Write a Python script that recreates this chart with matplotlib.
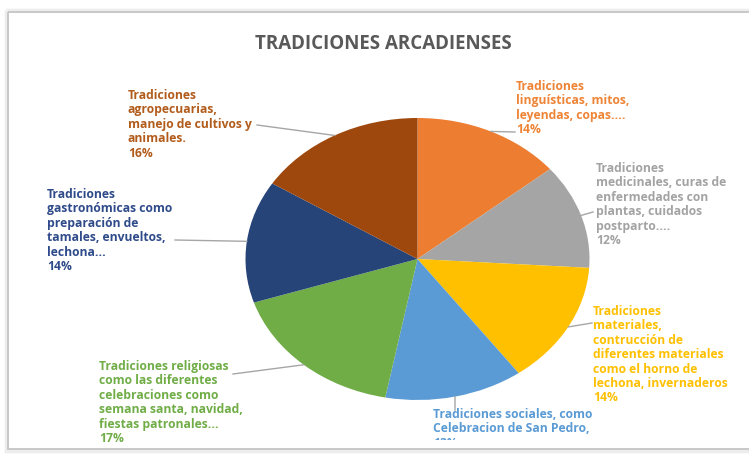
import matplotlib
matplotlib.use("Agg")
import matplotlib.pyplot as plt
from matplotlib.patches import Rectangle
from matplotlib.transforms import Bbox, TransformedBbox
import numpy as np

# data
labels = [
    "Tradiciones\nlinguísticas, mitos,\nleyendas, copas....\n14%",
    "Tradiciones\nmedicinales, curas de\nenfermedades con\nplantas, cuidados\npostparto....\n12%",
    "Tradiciones\nmateriales,\ncontrucción de\ndiferentes materiales\ncomo el horno de\nlechona, invernaderos\n14%",
    "Tradiciones sociales, como\nCelebracion de San Pedro,\n13%",
    "Tradiciones religiosas\ncomo las diferentes\ncelebraciones como\nsemana santa, navidad,\nfiestas patronales...\n17%",
    "Tradiciones\ngastronómicas como\npreparación de\ntamales, envueltos,\nlechona...\n14%",
    "Tradiciones\nagropecuarias,\nmanejo de cultivos y\nanimales.\n16%",
]
values = [14, 12, 14, 13, 17, 14, 16]
colors = ["#ED7D31", "#A5A5A5", "#FFC000", "#5B9BD5", "#70AD47", "#264478", "#9E480E"]
text_colors = ["#EE8435", "#A3A3A3", "#FFC000", "#5B9BD5", "#70AD47", "#2F4B8A", "#B25C1C"]

# label layout in pixels (x left, y of first line centre; end of leader line)
label_pos = [(516, 85), (596, 167), (593, 310), (433, 413), (99, 365), (47, 193), (128, 94)]
leader_end = [(515, 132), (593, 212), (592, 323), (455, 410), (233, 374), (175, 240), (257, 125)]
line_gap = 14.4

W, H = 749, 455
fig = plt.figure(figsize=(W / 100, H / 100), dpi=100)
fig.patch.set_facecolor("white")

# pie axes (the screenshot is stretched, so the pie is an ellipse)
cx, cy, rx, ry = 417.5, 259, 172, 141
pax = fig.add_axes([(cx - rx) / W, (H - cy - ry) / H, 2 * rx / W, 2 * ry / H])
wedges, _ = pax.pie(values, colors=colors, startangle=90, counterclock=False,
                    wedgeprops=dict(linewidth=0))
pax.set_aspect("auto")
pax.set_xlim(-1, 1)
pax.set_ylim(-1, 1)
pax.axis("off")

# overlay in pixel coordinates
ax = fig.add_axes([0, 0, 1, 1])
ax.set_xlim(0, W)
ax.set_ylim(H, 0)
ax.axis("off")
ax.patch.set_alpha(0)

shadow = Rectangle((6, 10), W, 441, fill=False, edgecolor="#EDEDED", lw=2.5)
ax.add_patch(shadow)
frame = Rectangle((8, 12), W, 437, fill=False, edgecolor="#C8C8C8", lw=1.4)
ax.add_patch(frame)

ax.text(383, 44, "TRADICIONES ARCADIENSES", ha="center", va="center",
        fontsize=13.5, fontweight="bold", color="#595959", family="Open Sans")

# the bottom label runs past the chart area and gets cut
clipbox = TransformedBbox(Bbox.from_extents(8, 12, W, 439.5), ax.transData)

for w, lab, tc, (lx, ly), (ex, ey) in zip(wedges, labels, text_colors, label_pos, leader_end):
    theta = np.deg2rad((w.theta1 + w.theta2) / 2)
    disp = pax.transData.transform((np.cos(theta), np.sin(theta)))
    px, py = ax.transData.inverted().transform(disp)
    ax.plot([px, ex], [py, ey], color="#A6A6A6", lw=1)
    for i, line in enumerate(lab.split("\n")):
        t = ax.text(lx, ly + i * line_gap, line, ha="left", va="center_baseline",
                    fontsize=8.7, fontweight="bold", color=tc, family="Open Sans")
        if ly > 400:
            t.set_clip_box(clipbox)
            t.set_clip_on(True)

fig.savefig("out.png", dpi=100)
